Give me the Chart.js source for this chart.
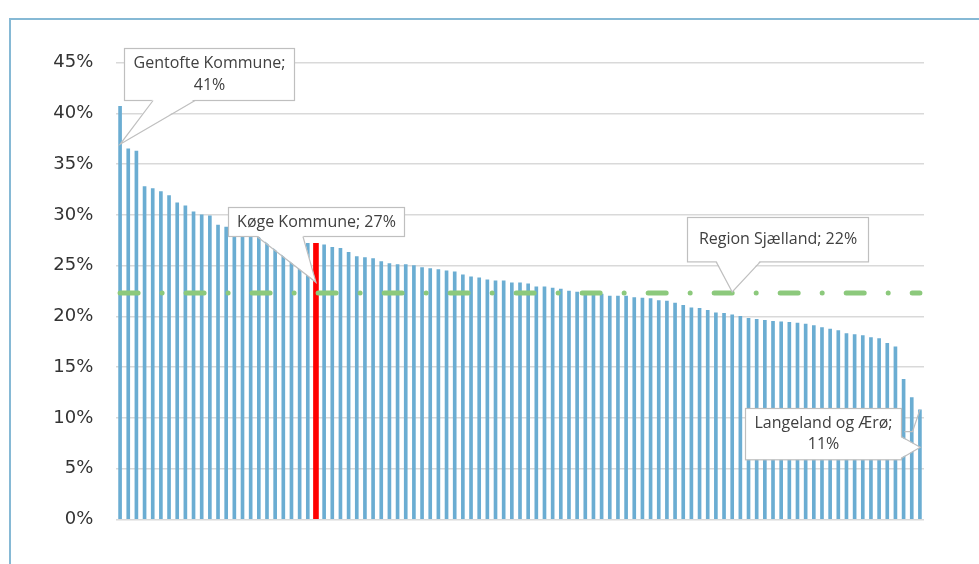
<!DOCTYPE html>
<html><head><meta charset="utf-8">
<script src="https://cdn.jsdelivr.net/npm/chart.js@4/dist/chart.umd.min.js"></script>
<style>
html,body{margin:0;padding:0;background:#fff;overflow:hidden}
#wrap{position:relative;width:979px;height:564px}
#frame{position:absolute;left:9px;top:18px;width:1000px;height:600px;border-left:2px solid #86b9d5;border-top:2px solid #86b9d5}
canvas{position:absolute;left:0;top:0}
</style></head><body>
<div id="wrap"><div id="frame"></div><canvas id="c" width="979" height="564"></canvas></div>
<script>
// ---- data ----
const values = [
  40.7, 36.5, 36.3, 32.8, 32.6, 32.3, 31.9, 31.2, 30.9, 30.3,
  30.0, 29.9, 29.0, 28.8, 28.7, 28.6, 28.4, 28.2, 28.0, 27.9,
  27.7, 27.5, 27.3, 27.2, 27.2, 27.05, 26.8, 26.7, 26.3, 25.9,
  25.8, 25.7, 25.4, 25.2, 25.1, 25.1, 25.0, 24.8, 24.7, 24.6,
  24.5, 24.4, 24.1, 23.9, 23.8, 23.6, 23.5, 23.5, 23.3, 23.3,
  23.2, 22.9, 22.9, 22.8, 22.7, 22.5, 22.4, 22.4, 22.3, 22.2,
  22.0, 22.0, 22.0, 21.85, 21.8, 21.75, 21.55, 21.5, 21.3, 21.1,
  20.85, 20.8, 20.6, 20.35, 20.3, 20.15, 20.0, 19.8, 19.7, 19.6,
  19.5, 19.45, 19.4, 19.35, 19.25, 19.1, 18.9, 18.75, 18.6, 18.3,
  18.2, 18.1, 17.9, 17.8, 17.35, 17.0, 13.8, 12.0, 10.8
];
const namedCategories = { 0: 'Gentofte Kommune', 24: 'Køge Kommune', 98: 'Langeland og Ærø' };
const categories = values.map((_, i) => namedCategories[i] || ('Kommune ' + (i + 1)));
const highlightIndex = 24;
const regionName = 'Region Sjælland';
const regionValue = 22.3;
const yTickValues = [0, 5, 10, 15, 20, 25, 30, 35, 40, 45];

const calloutTexts = ['Gentofte Kommune;\n41%', 'Køge Kommune; 27%', 'Region Sjælland; 22%', 'Langeland og Ærø;\n11%'];
const calloutIndex = [0, 24, 75, 98];
const calloutValue = [values[0], values[24], regionValue, values[98]];

// ---- layout / style of callouts (pixel offsets from anchor) ----
const calloutLayout = [
  { dx: 4, dy: -58, w: 170, h: 52, side: 'bottom', p1: 33, p2: 75, tx: 0, ty: 38 },
  { dx: -88, dy: -36.6, w: 176, h: 29, side: 'bottom', p1: -59, p2: -13, tx: 0, ty: 39 },
  { dx: -45.5, dy: -75.7, w: 181, h: 44.4, side: 'bottom', p1: -16, p2: 28, tx: 0, ty: -1 },
  { dx: -174.7, dy: -2, w: 156, h: 51.3, side: 'right', p1: 27, p2: 48.6, tx: 0.3, ty: 37.6,
    leader: [[-15.5, 22], [-7.4, 22], [0, 0]] }
];

const calloutPlugin = {
  id: 'callouts',
  afterDatasetsDraw(chart) {
    const ctx = chart.ctx, xs = chart.scales.x, ys = chart.scales.y;
    calloutLayout.forEach((L, k) => {
      const ax = xs.getPixelForValue(calloutIndex[k]);
      const ay = ys.getPixelForValue(calloutValue[k]);
      const bx = Math.round(ax + L.dx) + 0.5, by = Math.round(ay + L.dy) + 0.5;
      ctx.save();
      ctx.lineWidth = 1.2;
      ctx.strokeStyle = '#bfbfbf';
      ctx.fillStyle = '#ffffff';
      if (L.leader) {
        ctx.beginPath();
        L.leader.forEach((p, j) => { const X = ax + p[0], Y = ay + p[1]; j ? ctx.lineTo(X, Y) : ctx.moveTo(X, Y); });
        ctx.stroke();
      }
      ctx.fillRect(bx, by, L.w, L.h);
      ctx.strokeRect(bx, by, L.w, L.h);
      let a, b;
      const t = [ax + L.tx, ay + L.ty];
      if (L.side === 'bottom') { a = [ax + L.p1, by + L.h]; b = [ax + L.p2, by + L.h]; }
      else { a = [bx + L.w, ay + L.p1]; b = [bx + L.w, ay + L.p2]; }
      ctx.beginPath();
      if (L.side === 'bottom') { ctx.moveTo(a[0], a[1] - 1.5); ctx.lineTo(t[0], t[1]); ctx.lineTo(b[0], b[1] - 1.5); }
      else { ctx.moveTo(a[0] - 1.5, a[1]); ctx.lineTo(t[0], t[1]); ctx.lineTo(b[0] - 1.5, b[1]); }
      ctx.closePath();
      ctx.fill();
      ctx.beginPath();
      ctx.moveTo(a[0], a[1]); ctx.lineTo(t[0], t[1]); ctx.lineTo(b[0], b[1]);
      ctx.stroke();
      const lines = calloutTexts[k].split('\n');
      ctx.fillStyle = '#404040';
      ctx.font = '16px "Open Sans"';
      ctx.textAlign = 'center';
      ctx.textBaseline = 'middle';
      const lh = 21.5, cx = bx + L.w / 2, cy = by + L.h / 2;
      lines.forEach((s, j) => ctx.fillText(s, cx, cy + (j - (lines.length - 1) / 2) * lh));
      ctx.restore();
    });
  }
};

new Chart(document.getElementById('c'), {
  type: 'bar',
  data: {
    labels: categories,
    datasets: [
      {
        type: 'line', label: regionName,
        data: categories.map(() => regionValue),
        borderColor: '#8cc97c', borderWidth: 5, borderDash: [18, 24, 0.01, 24],
        borderCapStyle: 'round', pointRadius: 0, fill: false, order: 0
      },
      {
        label: 'Kommuner',
        data: values.map((v, i) => i === highlightIndex ? null : v),
        backgroundColor: '#6badd2', barThickness: 3, order: 1, grouped: false
      },
      {
        label: 'Køge Kommune',
        data: values.map((v, i) => i === highlightIndex ? v : null),
        backgroundColor: '#ff0000', barThickness: 5, order: 1, grouped: false
      }
    ]
  },
  options: {
    responsive: false, animation: false, devicePixelRatio: 1,
    layout: { padding: { left: 0, top: 62.7, right: 55, bottom: 44.7 } },
    plugins: { legend: { display: false }, tooltip: { enabled: false } },
    scales: {
      x: { display: false, offset: true, grid: { display: false } },
      y: {
        min: 0, max: 45,
        afterFit(s) { s.width = 116; },
        afterBuildTicks(s) { s.ticks = yTickValues.map(v => ({ value: v })); },
        border: { display: false },
        grid: { color: '#d9d9d9', lineWidth: 1.5, drawTicks: false },
        ticks: {
          padding: 22.7, color: '#333333',
          font: { family: '"DejaVu Sans"', size: 18 },
          callback: v => v + '%'
        }
      }
    }
  },
  plugins: [calloutPlugin]
});
</script>
</body></html>
